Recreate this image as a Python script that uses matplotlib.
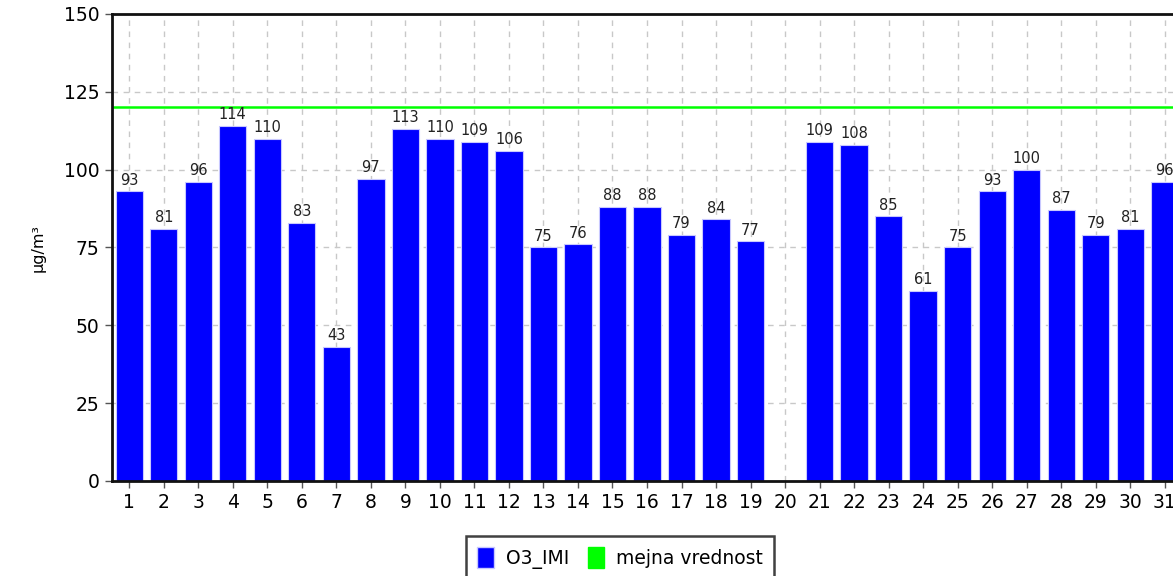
import matplotlib
matplotlib.use("Agg")
import matplotlib.pyplot as plt
import numpy as np
from matplotlib.patches import Patch

days = list(range(1, 32))
o3_imi = [93, 81, 96, 114, 110, 83, 43, 97, 113, 110, 109, 106, 75, 76, 88, 88,
          79, 84, 77, None, 109, 108, 85, 61, 75, 93, 100, 87, 79, 81, 96]
limit_value = 120
y_ticks = [0, 25, 50, 75, 100, 125, 150]

plt.rcParams['font.family'] = ['DejaVu Sans']

fig = plt.figure(figsize=(11.73, 5.76), dpi=100)
W, H = 1173, 576
left, right, top, bottom = 112, 1182, 14, 481
ax = fig.add_axes([left / W, 1 - bottom / H, (right - left) / W, (bottom - top) / H])

xs = [d for d, v in zip(days, o3_imi) if v is not None]
vs = [v for v in o3_imi if v is not None]
ax.bar(xs, vs, width=0.79, color='#0000ff', edgecolor='#c8c8ff', linewidth=0.8, zorder=2)
for x, v in zip(xs, vs):
    ax.text(x, v + 1.2, str(v), ha='center', va='bottom', fontsize=10.5, color='#222222', zorder=3)

ax.axhline(limit_value, color='#00ff00', linewidth=1.8, zorder=2.5)

ax.set_xlim(0.5, 31.5)
ax.set_ylim(0, 150)
ax.set_xticks(days)
ax.set_xticklabels([str(d) for d in days])
ax.set_yticks(y_ticks)
ax.tick_params(axis='both', labelsize=13.5, length=5, width=1, color='#555555', pad=4)
ax.grid(True, color='#c8c8c8', linestyle=(0, (4, 4)), linewidth=1, zorder=0)
ax.set_axisbelow(True)
for s in ['left', 'bottom', 'top']:
    ax.spines[s].set_linewidth(2)
    ax.spines[s].set_color('#111111')
ax.spines['right'].set_visible(False)
ax.set_ylabel('µg/m³', fontsize=11.5, labelpad=13)

handles = [Patch(facecolor='#0000ff', edgecolor='#c8c8ff'),
           Patch(facecolor='#00ff00', edgecolor='#00ff00')]
leg = fig.legend(handles, ['O3_IMI', 'mejna vrednost'], loc='center',
                 bbox_to_anchor=(620 / W, 1 - 558 / H), ncol=2, fontsize=13.5,
                 frameon=True, fancybox=False, edgecolor='#111111',
                 handlelength=0.9, handleheight=1.3, handletextpad=0.6,
                 columnspacing=1.0, borderpad=0.6)
leg.get_frame().set_linewidth(1.8)

fig.savefig('out.png', dpi=100)
